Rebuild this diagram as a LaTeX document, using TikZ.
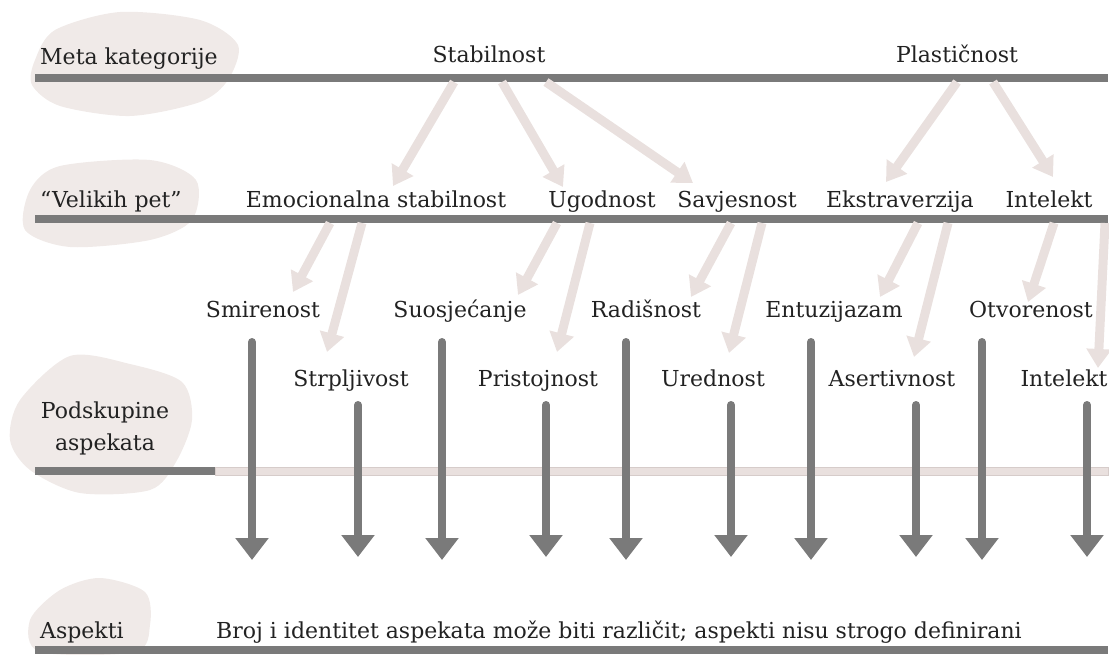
\documentclass[tikz,border=0pt]{standalone}
\usepackage{fontspec}
\setmainfont{DejaVu Serif}
\usetikzlibrary{arrows.meta}
\definecolor{barg}{HTML}{7A7A7A}
\definecolor{pinkl}{HTML}{E9E0DE}
\definecolor{pinkb}{HTML}{D6CCCA}
\definecolor{blobc}{HTML}{F0EAE8}
\definecolor{txt}{HTML}{222222}
\tikzset{lbl/.style  = {anchor=base, inner sep=0pt, text=txt, font=\fontsize{22}{32}\selectfont},
         bar/.style  = {line width=8pt, draw=barg},
         ga/.style   = {line width=8pt, draw=barg, line cap=round, -{Triangle[width=32pt, length=22pt]}},
         la/.style   = {line width=9pt, draw=pinkl, -{Triangle[width=24pt, length=19pt]}},
         blob/.style = {fill=blobc, draw=none}}

\begin{document}
\begin{tikzpicture}[x=1pt, y=-1pt]
    \useasboundingbox (0,0) rectangle (1109,655);
    % brush blobs behind the row names
    \fill[blob] plot[smooth cycle] coordinates {(35,60) (55,30) (120,12) (200,20) (238,45) (228,80) (200,102) (130,116) (60,106) (32,85)};
    \fill[blob] plot[smooth cycle] coordinates {(30,190) (60,166) (150,160) (196,180) (192,220) (150,240) (70,247) (25,230)};
    \fill[blob] plot[smooth cycle] coordinates {(20,400) (70,356) (130,364) (182,382) (192,420) (176,462) (150,490) (80,493) (30,470) (10,440)};
    \fill[blob] plot[smooth cycle] coordinates {(30,620) (60,590) (100,578) (145,592) (150,625) (135,652) (40,652)};
    % row bars
    \draw[bar] (35,78) -- (1108,78);
    \draw[bar] (35,219) -- (1108,219);
    \draw[draw=pinkb, fill=pinkl, line width=.8pt] (215,467) rectangle (1108,475);
    \draw[bar] (35,471) -- (215,471);
    \draw[bar] (35,650) -- (1108,650);
    % row names
    \node[lbl, anchor=base west] (meta) at (40,65) {Meta kategorije};
    \node[lbl, anchor=base west] (vp)   at (40,208) {``Velikih pet''};
    \node[lbl, align=center]     (pa)   at (105,450) {Podskupine\\aspekata};
    \node[lbl, anchor=base west] (asp)  at (40,638) {Aspekti};
    \node[lbl, anchor=base west] (note) at (216,638) {Broj i identitet aspekata može biti različit; aspekti nisu strogo definirani};
    % meta categories
    \node[lbl] (stab)  at (489,63) {Stabilnost};
    \node[lbl] (plast) at (957,63) {Plastičnost};
    % big five
    \node[lbl] (emo) at (376,208) {Emocionalna stabilnost};
    \node[lbl] (ugo) at (602,208) {Ugodnost};
    \node[lbl] (sav) at (737,208) {Savjesnost};
    \node[lbl] (eks) at (900,208) {Ekstraverzija};
    \node[lbl] (int) at (1049,208) {Intelekt};
    % aspects, upper and lower row
    \node[lbl] (smi) at (263,317) {Smirenost};
    \node[lbl] (suo) at (460,317) {Suosjećanje};
    \node[lbl] (rad) at (646,317) {Radišnost};
    \node[lbl] (ent) at (834,317) {Entuzijazam};
    \node[lbl] (otv) at (1031,317) {Otvorenost};
    \node[lbl] (str) at (351,386) {Strpljivost};
    \node[lbl] (pri) at (538,386) {Pristojnost};
    \node[lbl] (ure) at (713,386) {Urednost};
    \node[lbl] (ase) at (892,386) {Asertivnost};
    \node[lbl] (in2) at (1064,386) {Intelekt};
    % end points of the light arrows
    \coordinate (s1) at (454,82);  \coordinate (s2) at (502,82);  \coordinate (s3) at (546,82);
    \coordinate (p1) at (957,82);  \coordinate (p2) at (993,82);
    \coordinate (e1) at (330,223); \coordinate (e2) at (362,223);
    \coordinate (u1) at (557,223); \coordinate (u2) at (590,223);
    \coordinate (v1) at (731,223); \coordinate (v2) at (762,223);
    \coordinate (k1) at (918,223); \coordinate (k2) at (948,223);
    \coordinate (i1) at (1054,223); \coordinate (i2) at (1105,223);
    \coordinate (emo-t) at (393,186); \coordinate (ugo-t) at (563,187); \coordinate (sav-t) at (693,183);
    \coordinate (eks-t) at (886,182); \coordinate (int-t) at (1053,177);
    \coordinate (smi-t) at (293,292); \coordinate (str-t) at (327,352);
    \coordinate (suo-t) at (518,295); \coordinate (pri-t) at (557,352);
    \coordinate (rad-t) at (691,297); \coordinate (ure-t) at (729,353);
    \coordinate (ent-t) at (880,297); \coordinate (ase-t) at (914,357);
    \coordinate (otv-t) at (1028,302); \coordinate (in2-t) at (1098,368);
    \draw[la] (s1) -- (emo-t);
    \draw[la] (s2) -- (ugo-t);
    \draw[la] (s3) -- (sav-t);
    \draw[la] (p1) -- (eks-t);
    \draw[la] (p2) -- (int-t);
    \draw[la] (e1) -- (smi-t);
    \draw[la] (e2) -- (str-t);
    \draw[la] (u1) -- (suo-t);
    \draw[la] (u2) -- (pri-t);
    \draw[la] (v1) -- (rad-t);
    \draw[la] (v2) -- (ure-t);
    \draw[la] (k1) -- (ent-t);
    \draw[la] (k2) -- (ase-t);
    \draw[la] (i1) -- (otv-t);
    \draw[la] (i2) -- (in2-t);
    % gray arrows down to the aspects
    \foreach \n/\x in {smi/252, suo/442, rad/626, ent/811, otv/982} {
        \coordinate (\n-a) at (\x,342); \coordinate (\n-b) at (\x,560);
        \draw[ga] (\n-a) -- (\n-b);
    }
    \foreach \n/\x in {str/358, pri/546, ure/731, ase/916, in2/1087} {
        \coordinate (\n-a) at (\x,405); \coordinate (\n-b) at (\x,557);
        \draw[ga] (\n-a) -- (\n-b);
    }
\end{tikzpicture}
\end{document}
